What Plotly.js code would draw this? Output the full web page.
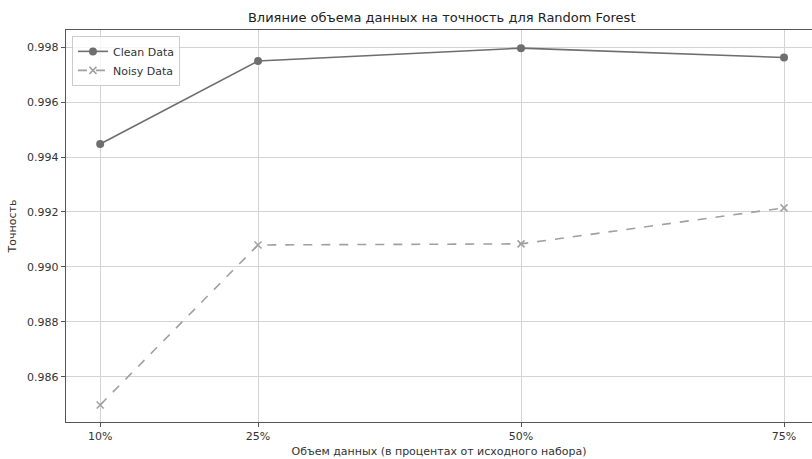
<!DOCTYPE html>
<html><head><meta charset="utf-8">
<script src="https://cdn.plot.ly/plotly-3.0.1.min.js"></script>
<style>body{margin:0;background:#fff}#c{width:812px;height:459px}</style>
</head><body><div id="c"></div>
<script>
const xVals = [10, 25, 50, 75];
const xLabels = ['10%', '25%', '50%', '75%'];
const cleanData = [0.99447, 0.99749, 0.99796, 0.99762];
const noisyData = [0.98498, 0.99080, 0.99084, 0.99215];

const font = {family: 'DejaVu Sans, sans-serif', size: 11, color: '#333'};
const traces = [
  {x: xVals, y: cleanData, name: 'Clean Data', mode: 'lines+markers', type: 'scatter',
   line: {color: '#6e6e6e', width: 1.6}, marker: {symbol: 'circle', size: 8, color: '#6e6e6e'}},
  {x: xVals, y: noisyData, name: 'Noisy Data', mode: 'lines+markers', type: 'scatter',
   line: {color: '#a0a0a0', width: 1.6, dash: 'dash'}, marker: {symbol: 'x-thin', size: 7, line: {color: '#a0a0a0', width: 1.5}, color: '#a0a0a0'}}
];
const layout = {
  width: 812, height: 459,
  margin: {l: 66, r: 0, t: 30, b: 37},
  paper_bgcolor: '#fff', plot_bgcolor: '#fff',
  font: font,
  title: {text: 'Влияние объема данных на точность для Random Forest', font: {family: 'DejaVu Sans, sans-serif', size: 13, color: '#222'},
          x: 0.544, xref: 'container', xanchor: 'center', y: 0.962, yref: 'container', yanchor: 'middle'},
  xaxis: {range: [6.75, 77.66], tickvals: xVals, ticktext: xLabels, showgrid: true, gridcolor: '#d3d3d3', gridwidth: 1,
          showline: true, linecolor: '#555', linewidth: 1.2, mirror: true, ticks: 'outside', ticklen: 4, tickcolor: '#555',
          zeroline: false, title: {text: 'Объем данных (в процентах от исходного набора)', font: {size: 11, color: '#333'}, standoff: 4}},
  yaxis: {range: [0.98436, 0.99862], tickvals: [0.986, 0.988, 0.990, 0.992, 0.994, 0.996, 0.998], tickformat: '.3f',
          showgrid: true, gridcolor: '#d3d3d3', gridwidth: 1, showline: true, linecolor: '#555', linewidth: 1.2,
          ticks: 'outside', ticklen: 4, tickcolor: '#555', zeroline: false,
          title: {text: 'Точность', font: {size: 11, color: '#333'}, standoff: 8}},
  legend: {x: 0.008, y: 0.985, xanchor: 'left', yanchor: 'top', bgcolor: 'rgba(255,255,255,0.8)', bordercolor: '#ccc', borderwidth: 1,
           font: {size: 11, color: '#333'}, tracegroupgap: 0},
  showlegend: true
};
Plotly.newPlot('c', traces, layout, {displayModeBar: false, staticPlot: true});
</script></body></html>
